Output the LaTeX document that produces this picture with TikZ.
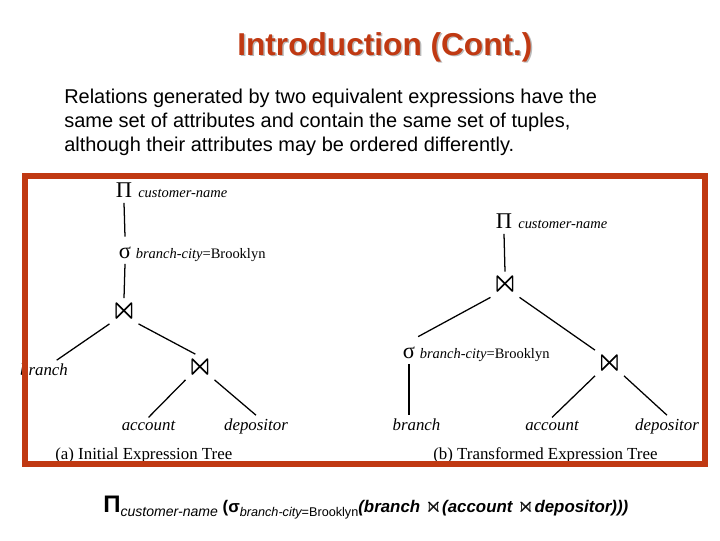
\documentclass[tikz,border=0pt]{standalone}
\usepackage{fontspec}
\usepackage{amssymb}
\setmainfont{Liberation Sans}
\newfontfamily\treefont{Liberation Serif}

\definecolor{slidered}{RGB}{192,57,18}
\definecolor{shadowgray}{RGB}{185,185,185}

\begin{document}
\begin{tikzpicture}[x=0.025cm, y=-0.025cm]
\tikzset{
  heading/.style  ={font=\fontsize{22.5}{27}\selectfont\bfseries,
                    anchor=base west, inner sep=0pt},
  body/.style     ={font=\fontsize{14.2}{17}\selectfont, align=left,
                    anchor=north west, inner sep=0pt},
  op/.style       ={font=\treefont\fontsize{16}{16}\selectfont,
                    anchor=base, inner sep=2pt,
                    text height=13pt, text depth=2pt},
  joinop/.style   ={font=\fontsize{24}{24}\selectfont, inner sep=1pt},
  sub/.style      ={font=\treefont\fontsize{10.3}{12}\selectfont,
                    anchor=base west, inner sep=0pt},
  leaf/.style     ={font=\treefont\itshape\fontsize{12}{14}\selectfont,
                    anchor=base, inner sep=2pt},
  caption/.style  ={font=\treefont\fontsize{12}{14}\selectfont,
                    anchor=base west, inner sep=0pt},
  treeline/.style ={line width=0.9pt},
  frame/.style    ={draw=slidered, line width=4.25pt},
  formula/.style  ={font=\fontsize{12}{15}\selectfont\bfseries,
                    anchor=base west, inner sep=0pt}
}
\useasboundingbox (0,0) rectangle (720,540);

%% ----- Title and text -----
\node[heading, text=shadowgray] at (238.5,56.5) {Introduction (Cont.)};
\node[heading, text=slidered] (title) at (237,55) {Introduction (Cont.)};
\node[body] (intro) at (64,88.5)
  {Relations generated by two equivalent expressions have the\\
   same set of attributes and contain the same set of tuples,\\
   although their attributes may be ordered differently.};

%% ----- (a) Initial expression tree -----
\node[op] (pa) at (124,197) {Π};
\node[sub] at ([xshift=2pt]pa.base east) {\itshape customer-name};
\node[op] (sa) at (125,258) {σ};
\node[sub] at ([xshift=1pt]sa.base east) {{\itshape branch-city}=Brooklyn};
\node[joinop] (ja1) at (124,311) {$\Join$};
\node[joinop] (ja2) at (200,367) {$\Join$};
\node[leaf] (branchA)    at (44,375)    {branch};
\node[leaf] (accountA)   at (148.5,430) {account};
\node[leaf] (depositorA) at (256,430)   {depositor};
\node[caption] (capA) at (55,459) {(a) Initial Expression Tree};

\draw[treeline] (pa.south) -- (sa.north);
\draw[treeline] (sa.south) -- (ja1.north);
\draw[treeline] (ja1.south west) -- ([xshift=9pt]branchA.north);
\draw[treeline] (ja1.south east) -- (ja2.110);
\draw[treeline] (ja2.south west) -- (accountA.north);
\draw[treeline] (ja2.south east) -- (depositorA.north);

%% ----- (b) Transformed expression tree -----
\node[op] (pb) at (504,228) {Π};
\node[sub] at ([xshift=2pt]pb.base east) {\itshape customer-name};
\node[joinop] (jb1) at (505,284.5) {$\Join$};
\node[op] (sb) at (409,358) {σ};
\node[sub] at ([xshift=1pt]sb.base east) {{\itshape branch-city}=Brooklyn};
\node[joinop] (jb2) at (609.5,363) {$\Join$};
\node[leaf] (branchB)    at (416.5,430) {branch};
\node[leaf] (accountB)   at (552,430)   {account};
\node[leaf] (depositorB) at (667,430)   {depositor};
\node[caption] (capB) at (433,459) {(b) Transformed Expression Tree};

\draw[treeline] (pb.south) -- (jb1.north);
\draw[treeline] (jb1.south west) -- (sb.north east);
\draw[treeline] (jb1.south east) -- (jb2.north west);
\draw[treeline] (sb.south) -- (sb.south |- branchB.north);
\draw[treeline] (jb2.south west) -- (accountB.north);
\draw[treeline] (jb2.south east) -- (depositorB.north);

%% ----- Frame round both trees -----
\draw[frame] (25,176) rectangle (704.5,464);

%% ----- Expression -----
\node[formula] (expr) at (103,512)
  {{\fontsize{17}{17}\selectfont Π}%
   \raisebox{-3pt}{\fontsize{10}{10}\selectfont\mdseries\itshape customer-name}
   (σ\raisebox{-3pt}{\fontsize{9}{9}\selectfont\mdseries
     {\itshape branch-city}=Brooklyn}%
   {\itshape (branch {\fontsize{15}{15}\selectfont$\Join$}(account
    {\fontsize{15}{15}\selectfont$\Join$}depositor)))}};

\end{tikzpicture}
\end{document}
